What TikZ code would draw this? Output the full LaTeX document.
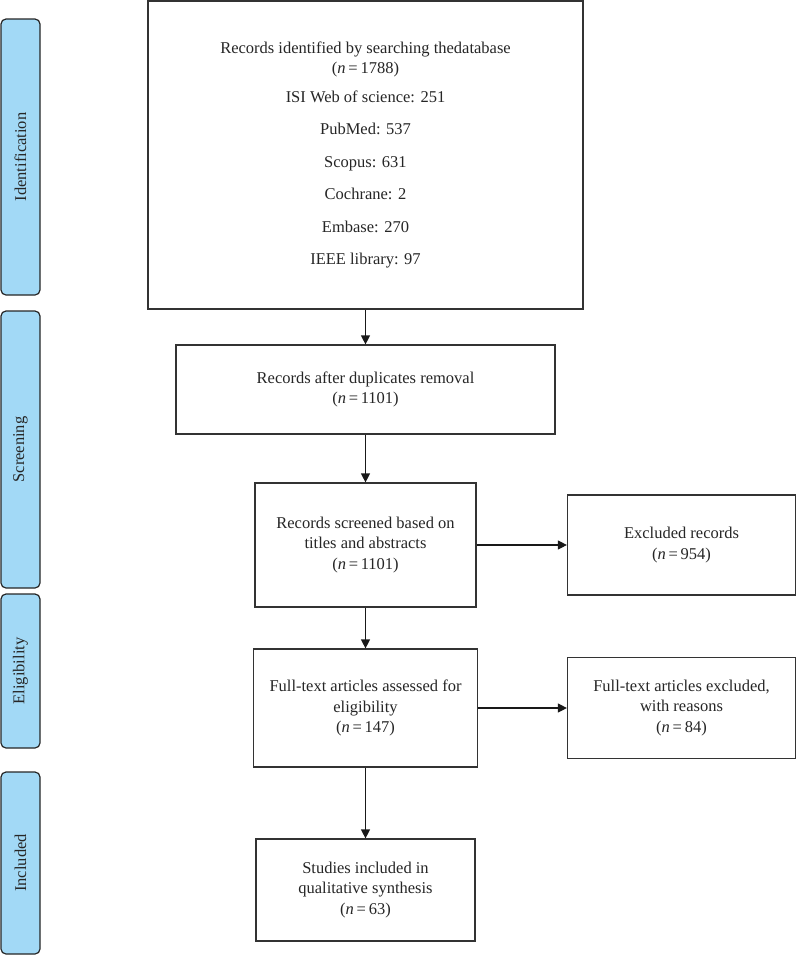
\documentclass[tikz,border=0pt]{standalone}
\usepackage{fontspec}
\setmainfont{Liberation Serif}
\usetikzlibrary{arrows.meta}
\definecolor{barblue}{HTML}{A2D9F6}
\definecolor{linegray}{HTML}{333333}
\begin{document}
\begin{tikzpicture}[x=1pt,y=-1pt,
  box/.style={draw=linegray,line width=1.2pt,fill=white,align=center,inner sep=0pt,
    font=\fontsize{16.5}{20.5}\selectfont,text=black!85},
  phase/.style={draw=black!85,line width=1.2pt,fill=barblue,rounded corners=5pt,
    inner sep=0pt},
  phasetext/.style={rotate=90,font=\fontsize{16.5}{19}\selectfont,text=black!85},
  arr/.style={line width=1.2pt,draw=black!90,-{Triangle[length=9pt,width=9pt]}}]
\useasboundingbox (0,0) rectangle (797,956);
% phase bars
\node[phase,minimum width=39pt,minimum height=276pt] (pid) at (20.5,157) {};
\node[phasetext] at (pid.center) {Identification};
\node[phase,minimum width=39pt,minimum height=277pt] (psc) at (20.5,449.5) {};
\node[phasetext] at (psc.center) {Screening};
\node[phase,minimum width=39pt,minimum height=154pt] (pel) at (20.5,671) {};
\node[phasetext] at (pel.center) {Eligibility};
\node[phase,minimum width=39pt,minimum height=182pt] (pin) at (20.5,863) {};
\node[phasetext] at (pin.center) {Included};
% boxes
\node[box,minimum width=435pt,minimum height=308pt] (b1) at (365.5,155)
  {Records identified by searching thedatabase\\(\textit{n}\,=\,1788)\\[8pt]
   ISI Web of science: 251\\[12pt] PubMed: 537\\[12pt] Scopus: 631\\[12pt]
   Cochrane: 2\\[12pt] Embase: 270\\[12pt] IEEE library: 97};
\node[box,minimum width=379pt,minimum height=89pt] (b2) at (365.5,389.5)
  {Records after duplicates removal\\(\textit{n}\,=\,1101)};
\node[box,minimum width=221pt,minimum height=124pt] (b3) at (365.5,545)
  {Records screened based on\\titles and abstracts\\(\textit{n}\,=\,1101)};
\node[box,minimum width=228pt,minimum height=100pt] (e1) at (681.5,545)
  {Excluded records\\(\textit{n}\,=\,954)};
\node[box,minimum width=224pt,minimum height=118pt] (b4) at (365.5,708)
  {Full-text articles assessed for\\eligibility\\(\textit{n}\,=\,147)};
\node[box,minimum width=228pt,minimum height=101pt] (e2) at (681.5,708)
  {Full-text articles excluded,\\with reasons\\(\textit{n}\,=\,84)};
\node[box,minimum width=219pt,minimum height=102pt] (b5) at (365.5,890)
  {Studies included in\\qualitative synthesis\\(\textit{n}\,=\,63)};
% arrows
\draw[arr] (b1) -- (b2);
\draw[arr] (b2) -- (b3);
\draw[arr] (b3) -- (e1);
\draw[arr] (b3) -- (b4);
\draw[arr] (b4) -- (e2);
\draw[arr] (b4) -- (b5);
\end{tikzpicture}
\end{document}
